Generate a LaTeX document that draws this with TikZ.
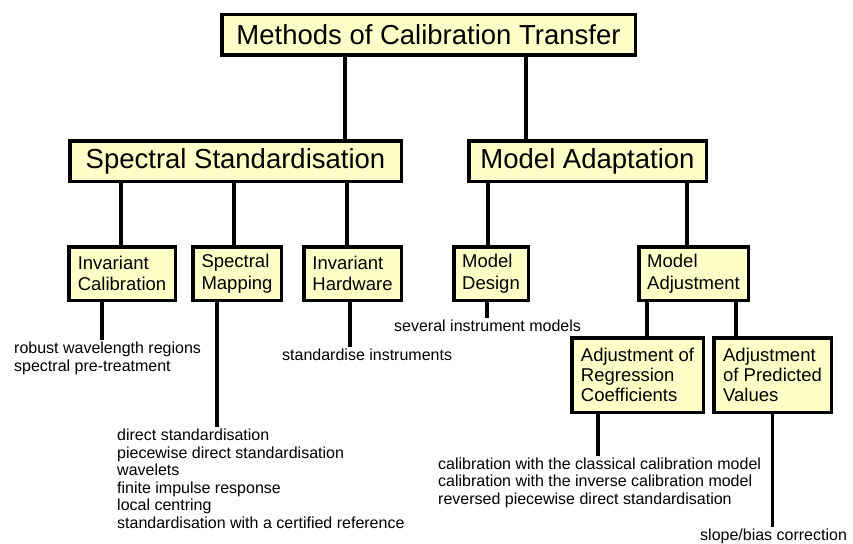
\documentclass[tikz,border=0pt]{standalone}
\usepackage{fontspec}
\setmainfont{Liberation Sans}
\usepackage{xcolor}
\usepackage{tikz}
\definecolor{boxYellow}{HTML}{FFFFC8}
\tikzstyle{block} = [rectangle, draw, line width = 3.5pt, fill=boxYellow, inner sep = 0pt, align = left]
\tikzstyle{blockBig} = [block, font = \fontsize{27.5}{30}\selectfont, minimum height = 40.5pt]
\tikzstyle{blockMid} = [block, font = \fontsize{18.5}{21.5}\selectfont, minimum height = 53.5pt]
\tikzstyle{blockLow} = [block, font = \fontsize{18.5}{20}\selectfont, minimum height = 74.5pt]
\tikzstyle{noblock} = [rectangle, draw = none, align = left, anchor = north west, inner xsep = 0pt, inner ysep = 2pt, font = \fontsize{16}{17.5}\selectfont]
\tikzstyle{line} = [line width = 3.2pt]

\begin{document}
\begin{tikzpicture}[x = 1pt, y = -1pt]
        \useasboundingbox (0,0) rectangle (853,543);
        \node(CT) [blockBig, minimum width = 413.5pt] at (428.5,35) {Methods of Calibration Transfer};
        \node(SS) [blockBig, minimum width = 331.5pt] at (235.5,161) {Spectral Standardisation};
        \node(MA) [blockBig, minimum width = 237.5pt] at (587.5,161) {Model Adaptation};
        \node(IC) [blockMid, minimum width = 106.5pt] at (122,273.5) {Invariant\\Calibration};
        \node(SM) [blockMid, minimum width = 88.5pt] at (237,273.5) {Spectral\\Mapping};
        \node(IH) [blockMid, minimum width = 97.5pt] at (352.5,273.5) {Invariant\\Hardware};
        \node(MD) [blockMid, minimum width = 74.5pt] at (491,273.5) {Model\\Design};
        \node(MJ) [blockMid, minimum width = 109.5pt] at (693.5,273.5) {Model\\Adjustment};
        \node(RC) [blockLow, minimum width = 131.5pt] at (637.5,375) {Adjustment of\\Regression\\Coefficients};
        \node(PV) [blockLow, minimum width = 117.5pt] at (772.5,375) {Adjustment\\of Predicted\\Values};
        % notes under the boxes
        \node(noteIC) [noblock, font = \fontsize{16}{18.5}\selectfont] at (14,339.5) {robust wavelength regions\\spectral pre-treatment};
        \node(noteSM) [noblock] at (117,427) {direct standardisation\\piecewise direct standardisation\\wavelets\\finite impulse response\\local centring\\standardisation with a certified reference};
        \node(noteIH) [noblock] at (282,346.5) {standardise instruments};
        \node(noteMD) [noblock] at (394,318) {several instrument models};
        \node(noteRC) [noblock] at (438,455.5) {calibration with the classical calibration model\\calibration with the inverse calibration model\\reversed piecewise direct standardisation};
        \node(notePV) [noblock] at (700,526.5) {slope/bias correction};
        \draw[line] ([xshift = -83.5pt]CT.south) -- ([xshift = 109.5pt]SS.north);
        \draw[line] ([xshift = 97.5pt]CT.south) -- ([xshift = -61.5pt]MA.north);
        \draw[line] ([xshift = -1pt]IC.north) -- ([xshift = -1pt]IC.north |- SS.south);
        \draw[line] ([xshift = -3pt]SM.north) -- ([xshift = -3pt]SM.north |- SS.south);
        \draw[line] ([xshift = -5.5pt]IH.north) -- ([xshift = -5.5pt]IH.north |- SS.south);
        \draw[line] ([xshift = -3pt]MD.north) -- ([xshift = -3pt]MD.north |- MA.south);
        \draw[line] ([xshift = -6.5pt]MJ.north) -- ([xshift = -6.5pt]MJ.north |- MA.south);
        \draw[line] ([xshift = 9.5pt]RC.north) -- ([xshift = 9.5pt]RC.north |- MJ.south);
        \draw[line] ([xshift = -36.5pt]PV.north) -- ([xshift = -36.5pt]PV.north |- MJ.south);
        \draw[line] ([xshift = -20pt]IC.south) -- ([xshift = -20pt]IC.south |- noteIC.north);
        \draw[line] ([xshift = -20pt]SM.south) -- ([xshift = -20pt]SM.south |- noteSM.north);
        \draw[line] ([xshift = -2.5pt]IH.south) -- ([xshift = -2.5pt]IH.south |- noteIH.north);
        \draw[line] ([xshift = -4pt]MD.south) -- ([xshift = -4pt]MD.south |- noteMD.north);
        \draw[line] ([xshift = -39.5pt]RC.south) -- ([xshift = -39.5pt]RC.south |- noteRC.north);
        \draw[line] (PV.south) -- (PV.south |- notePV.north);
    \end{tikzpicture}
\end{document}
